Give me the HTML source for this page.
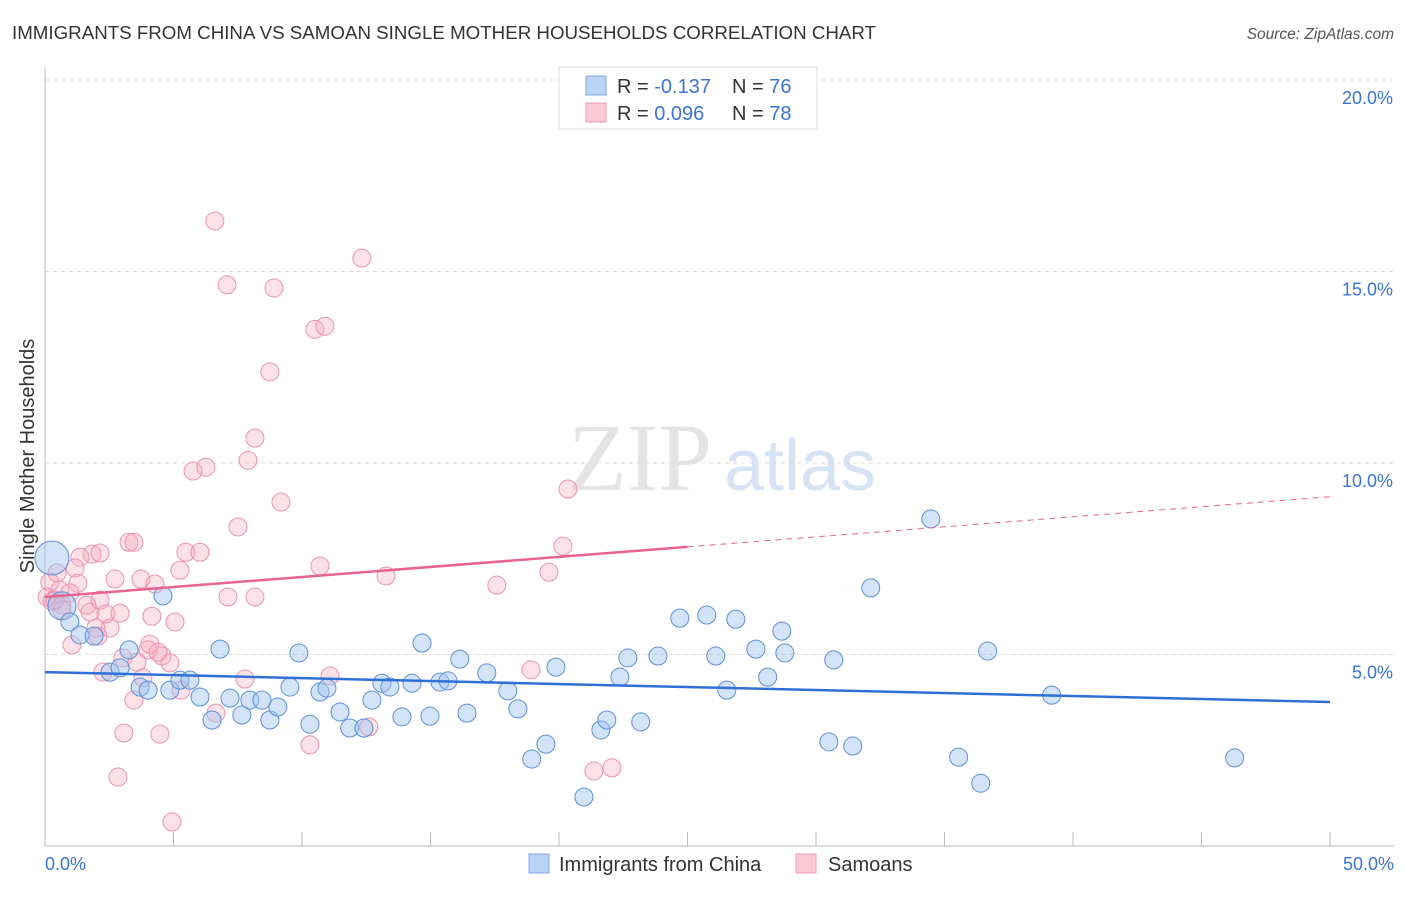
<!DOCTYPE html>
<html><head><meta charset="utf-8"><style>
body{margin:0;background:#fff;width:1406px;height:892px;overflow:hidden;font-family:"Liberation Sans",sans-serif}
</style></head><body>
<svg id="chart" width="1406" height="892" font-family="Liberation Sans, sans-serif">
<text x="12" y="39" font-size="18" fill="#333" textLength="864" lengthAdjust="spacingAndGlyphs">IMMIGRANTS FROM CHINA VS SAMOAN SINGLE MOTHER HOUSEHOLDS CORRELATION CHART</text>
<text x="1394" y="39" font-size="15.5" fill="#555" font-style="italic" text-anchor="end">Source: ZipAtlas.com</text>
<text x="640" y="490" font-size="96" fill="#e4e4e4" font-family="Liberation Serif, serif" text-anchor="middle">ZIP</text>
<text x="800" y="490" font-size="72" fill="#d6e3f5" text-anchor="middle">atlas</text>
<g id="grid"></g><g id="axes"></g><g id="pts"></g><g id="lines"></g>
<text transform="translate(34,456) rotate(-90)" font-size="20" fill="#333" text-anchor="middle">Single Mother Households</text>
<g>
<rect x="559" y="67" width="258" height="62" fill="#fff" stroke="#ddd"/>
<rect x="586" y="76" width="20" height="19" fill="#b8d3f4" stroke="#7ea9e2"/>
<rect x="586" y="103" width="20" height="19" fill="#f9c9d7" stroke="#ec9db5"/>
<text x="617" y="93" font-size="20" fill="#333">R = <tspan fill="#3a74d4">-0.137</tspan></text>
<text x="732" y="93" font-size="20" fill="#333">N = <tspan fill="#3a74d4">76</tspan></text>
<text x="617" y="120" font-size="20" fill="#333">R = <tspan fill="#3a74d4"> 0.096</tspan></text>
<text x="732" y="120" font-size="20" fill="#333">N = <tspan fill="#3a74d4">78</tspan></text>
</g>
<g>
<rect x="529" y="854" width="20" height="19" fill="#b8d3f4" stroke="#7ea9e2"/>
<text x="559" y="871" font-size="20" fill="#333">Immigrants from China</text>
<rect x="796" y="854" width="20" height="19" fill="#f9c9d7" stroke="#ec9db5"/>
<text x="828" y="871" font-size="20" fill="#333">Samoans</text>
</g>
</svg>
<script>
const yTicks=[5,10,15,20];
const xTickLabels=["0.0%","50.0%"];
const chinaX=[0.27,0.66,0.97,1.36,1.91,2.53,2.92,3.70,4.01,3.27,4.59,4.86,5.25,5.64,6.03,6.50,6.81,7.20,7.66,7.97,8.44,8.75,9.06,9.53,9.88,10.31,10.70,10.97,11.48,11.86,12.41,12.72,13.11,13.42,13.89,14.28,14.67,14.98,15.37,15.68,16.14,16.42,17.19,18.01,18.40,18.94,19.49,19.88,20.97,21.63,21.86,22.37,22.68,23.18,23.85,24.70,25.75,26.10,26.53,26.88,27.66,28.12,28.67,28.79,30.50,30.69,31.43,32.13,34.47,35.55,36.41,36.68,39.17,46.29];
const chinaY=[7.52,6.27,5.85,5.51,5.48,4.54,4.65,4.15,4.07,5.12,6.53,4.07,4.33,4.33,3.89,3.29,5.14,3.86,3.42,3.81,3.81,3.29,3.63,4.15,5.04,3.18,4.02,4.12,3.50,3.08,3.08,3.81,4.25,4.15,3.37,4.25,5.30,3.39,4.28,4.31,4.88,3.47,4.52,4.05,3.58,2.27,2.66,4.67,1.28,3.03,3.29,4.41,4.91,3.24,4.96,5.95,6.03,4.96,4.07,5.92,5.14,4.41,5.61,5.04,2.72,4.86,2.61,6.74,8.54,2.32,1.64,5.09,3.94,2.30];
const chinaR=[17,14];
const samoaX=[6.61,7.08,8.91,12.33,10.50,10.89,8.75,8.17,7.90,5.76,6.26,9.18,7.51,20.35,3.27,3.46,5.48,6.03,1.83,2.14,1.36,1.17,0.47,0.19,1.28,0.58,0.66,0.27,0.08,1.75,1.63,2.14,2.37,2.92,2.72,3.73,4.28,5.25,10.70,13.27,17.58,19.61,20.15,7.12,8.17,4.16,5.06,2.53,1.98,1.05,2.06,4.08,4.55,4.86,3.03,3.58,4.01,2.26,4.40,3.81,7.78,5.29,6.65,11.09,12.60,18.91,10.31,3.07,4.47,2.84,4.94,21.36,22.06,3.46,0.66,0.97,0.39];
const samoaY=[16.32,14.65,14.57,15.35,13.49,13.57,12.38,10.65,10.07,9.79,9.89,8.98,8.33,9.32,7.93,7.93,7.67,7.67,7.62,7.65,7.54,7.26,7.13,6.89,6.86,6.68,6.29,6.39,6.50,6.11,6.29,6.42,6.06,6.08,6.97,6.97,6.84,7.20,7.31,7.05,6.81,7.15,7.83,6.50,6.50,6.00,5.85,5.69,5.69,5.25,5.48,5.27,4.96,4.78,4.91,4.80,5.12,4.54,5.06,4.39,4.36,4.07,3.47,4.44,3.11,4.60,2.64,2.95,2.92,1.80,0.63,1.96,2.04,3.81,6.16,6.61,6.42];
const chinaTrend=[4.54,3.76];
const samoaTrend=[6.50,7.81,9.12];
const NS='http://www.w3.org/2000/svg';
const X=v=>45+v/50*1285, Y=v=>846-v/5*191.5;
function mk(t,a,p){const e=document.createElementNS(NS,t);for(const k in a)e.setAttribute(k,a[k]);p.appendChild(e);return e;}
const grid=document.getElementById('grid'),axes=document.getElementById('axes'),pts=document.getElementById('pts'),lines=document.getElementById('lines');
yTicks.forEach(t=>{
 const l=mk('line',{x1:45,x2:1394,y1:Y(t),y2:Y(t),stroke:'#ddd','stroke-dasharray':'4,4'},grid);
 
 
 const tx=mk('text',{x:1393,y:Y(t)+24,'font-size':18,fill:'#3a74d4','text-anchor':'end'},axes);
 tx.textContent=t.toFixed(1)+'%';
 
 
});
const ax=mk('line',{x1:45,x2:45,y1:68,y2:846,stroke:'#bbb'},axes);


const bx=mk('line',{x1:45,x2:1394,y1:846,y2:846,stroke:'#bbb'},axes);


for(let i=0;i<=10;i++){const t=mk('line',{x1:X(i*5),x2:X(i*5),y1:832,y2:846,stroke:'#bbb'},axes);
 
 }
[[0,'start',45],[50,'end',1394]].forEach((d,i)=>{const t=mk('text',{x:d[2],y:870,'font-size':18,fill:'#3a74d4','text-anchor':d[1]},axes);t.textContent=xTickLabels[i];
 
 });
samoaX.forEach((x,i)=>{const c=mk('circle',{cx:X(x),cy:Y(samoaY[i]),r:9,fill:'rgba(246,170,192,0.35)',stroke:'#ea93ae','stroke-width':1},pts);
 
 });
chinaX.forEach((x,i)=>{const c=mk('circle',{cx:X(x),cy:Y(chinaY[i]),r:chinaR[i]||9,fill:'rgba(160,196,240,0.45)',stroke:'#5b8fd8','stroke-width':1},pts);
 
 });
const bl=mk('line',{x1:X(0),y1:Y(chinaTrend[0]),x2:X(50),y2:Y(chinaTrend[1]),stroke:'#2f6fd6','stroke-width':2.5},lines);


const pl=mk('line',{x1:X(0),y1:Y(samoaTrend[0]),x2:X(25),y2:Y(samoaTrend[1]),stroke:'#e8648f','stroke-width':2.5},lines);


const pd=mk('line',{x1:X(25),y1:Y(samoaTrend[1]),x2:X(50),y2:Y(samoaTrend[2]),stroke:'#e8648f','stroke-width':1,'stroke-dasharray':'6,5'},lines);


</script>
</body></html>
